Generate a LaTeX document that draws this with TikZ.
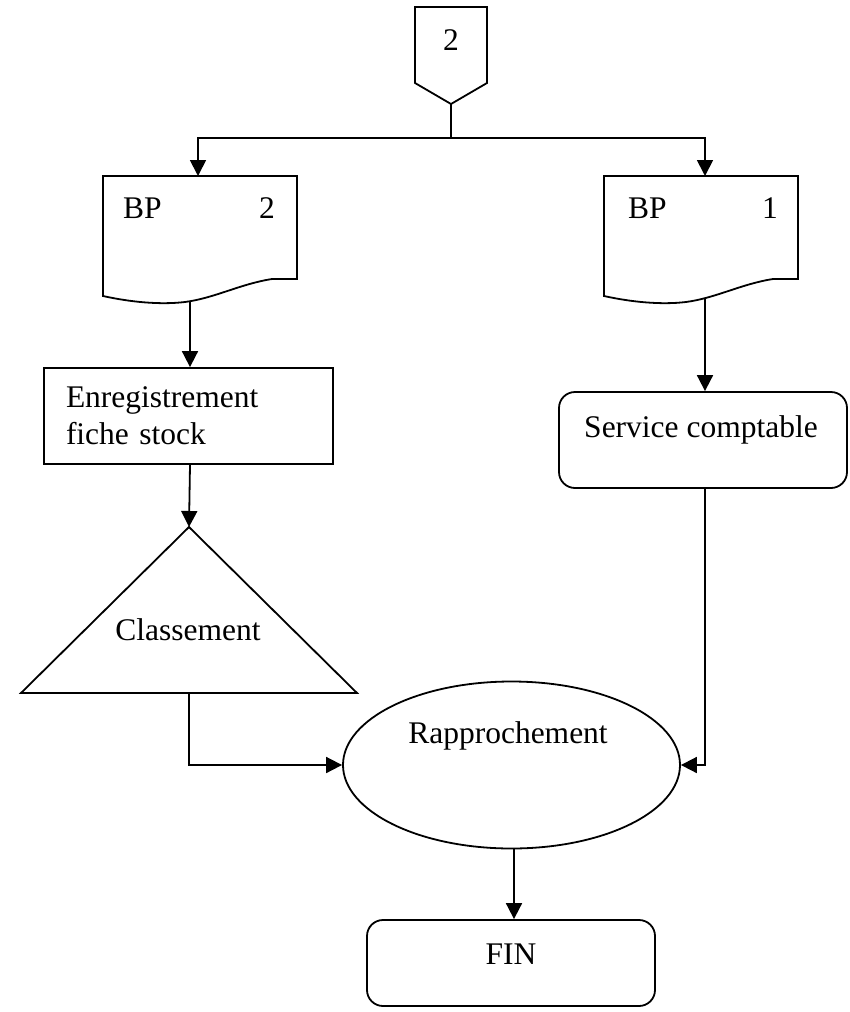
\documentclass[tikz,border=0pt]{standalone}
\usepackage{fontspec}
\setmainfont{Liberation Serif}
\usetikzlibrary{arrows.meta,shapes.geometric}

\tikzset{
  shape line/.style={draw=black, line width=1.8pt},
  conn/.style={draw=black, line width=1.8pt},
  arr/.style={conn, -{Triangle[length=16pt,width=16pt]}},
  lbl/.style={inner sep=0pt, font=\fontsize{31.5}{37}\selectfont},
}

% paper document outline with a wavy bottom edge, left edge at x = #1
\newcommand\paperdoc[1]{%
  \draw[shape line, shift={(#1,0)}]
    (0,176) -- (194,176) -- (194,279) -- (169,279)
    .. controls (137,284) and (112,298) .. (82,302)
    .. controls (57,305) and (27,302) .. (0,296) -- cycle;}

\begin{document}
\begin{tikzpicture}[x=1pt, y=-1pt]
  \useasboundingbox (0,0) rectangle (850,1012);

  % off-page connector at the top
  \draw[shape line] (415,7) -- (487,7) -- (487,83) -- (451,104) -- (415,83) -- cycle;
  \coordinate (ctip) at (451,104);
  \node[lbl, anchor=base] (ctxt) at (451,50) {2};
  \coordinate (split) at (451,138);

  % the two copies of the form
  \paperdoc{103}
  \paperdoc{604}
  \coordinate (d2top) at (198,176);
  \coordinate (d2bot) at (190,301);
  \coordinate (d1top) at (705,176);
  \coordinate (d1bot) at (705,299);
  \node[lbl, anchor=base west] (d2a) at (123,218) {BP};
  \node[lbl, anchor=base] (d2b) at (267,218) {2};
  \node[lbl, anchor=base west] (d1a) at (628,218) {BP};
  \node[lbl, anchor=base] (d1b) at (770,218) {1};

  % processing steps
  \node[shape line, rectangle, minimum width=289pt, minimum height=96pt,
        text width=245pt, align=left, lbl, inner sep=0pt] (enr) at (188.5,416)
        {Enregistrement\\fiche stock};

  \node[shape line, rectangle, rounded corners=16pt, minimum width=288pt,
        minimum height=96pt, inner sep=0pt] (serv) at (703,440) {};
  \node[lbl, anchor=base] (servtxt) at (701,437) {Service comptable};

  % filing triangle
  \draw[shape line] (189,527) -- (357,693) -- (21,693) -- cycle;
  \coordinate (tapex) at (189,527);
  \coordinate (tbase) at (189,693);
  \node[lbl, anchor=base] (classtxt) at (188,640) {Classement};

  % reconciliation
  \node[shape line, ellipse, minimum width=337pt, minimum height=167pt,
        inner sep=0pt] (rap) at (511.5,765) {};
  \node[lbl, anchor=base] (raptxt) at (508,743) {Rapprochement};

  % end
  \node[shape line, rectangle, rounded corners=16pt, minimum width=288pt,
        minimum height=86pt, inner sep=0pt] (fin) at (511,963) {};
  \node[lbl, anchor=base] (fintxt) at (511,964) {FIN};

  % connectors
  \draw[conn] (ctip) -- (split);
  \draw[arr] (split) -| (d2top);
  \draw[arr] (split) -| (d1top);
  \draw[arr] (d2bot) -- (d2bot |- enr.north);
  \draw[arr] (d2bot |- enr.south) -- (tapex);
  \draw[arr] (d1bot) -- (d1bot |- serv.north);
  \draw[arr] (tbase) |- (rap.west);
  \draw[arr] (d1bot |- serv.south) |- (rap.east);
  \draw[arr] (rap.south -| 514,0) -- (514,0 |- fin.north);
\end{tikzpicture}
\end{document}
